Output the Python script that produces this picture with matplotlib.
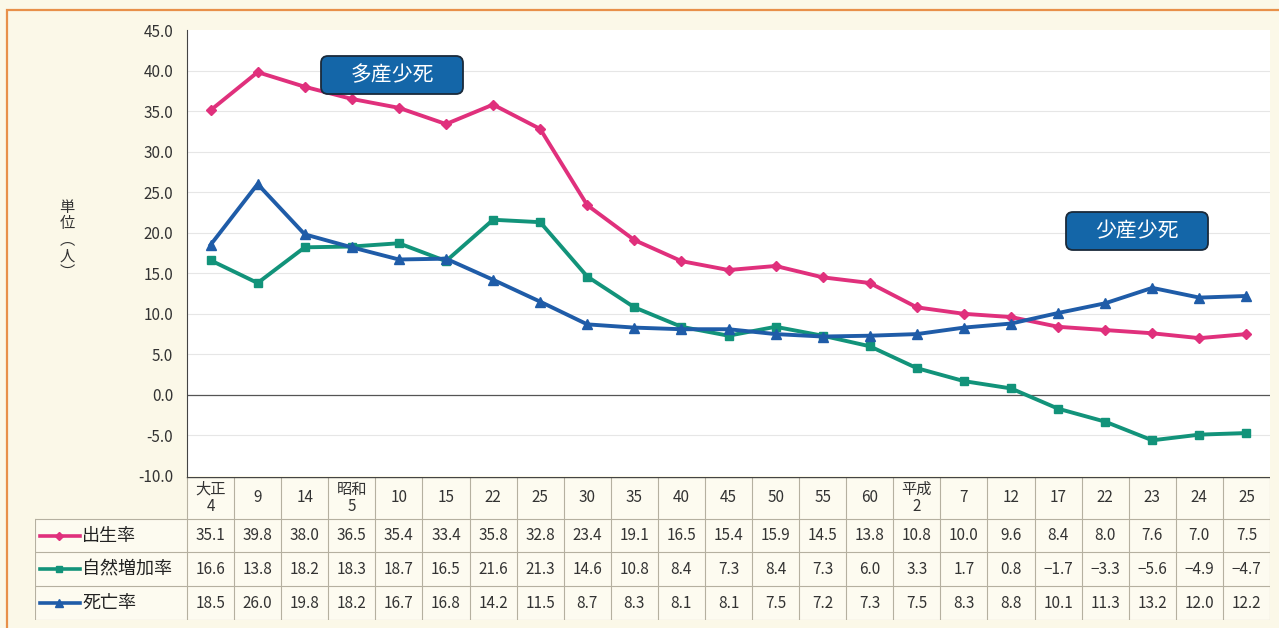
import matplotlib

matplotlib.use("Agg")
import matplotlib.pyplot as plt
from matplotlib.patches import Rectangle, FancyBboxPatch
from matplotlib.lines import Line2D
from matplotlib.transforms import IdentityTransform

plt.rcParams["font.family"] = ["Noto Sans CJK JP", "DejaVu Sans"]

YEARS = ["大正\n4", "9", "14", "昭和\n5", "10", "15", "22", "25", "30", "35", "40",
         "45", "50", "55", "60", "平成\n2", "7", "12", "17", "22", "23", "24", "25"]
BIRTH = [35.1, 39.8, 38.0, 36.5, 35.4, 33.4, 35.8, 32.8, 23.4, 19.1, 16.5, 15.4,
         15.9, 14.5, 13.8, 10.8, 10.0, 9.6, 8.4, 8.0, 7.6, 7.0, 7.5]
NATURAL = [16.6, 13.8, 18.2, 18.3, 18.7, 16.5, 21.6, 21.3, 14.6, 10.8, 8.4, 7.3,
           8.4, 7.3, 6.0, 3.3, 1.7, 0.8, -1.7, -3.3, -5.6, -4.9, -4.7]
DEATH = [18.5, 26.0, 19.8, 18.2, 16.7, 16.8, 14.2, 11.5, 8.7, 8.3, 8.1, 8.1,
         7.5, 7.2, 7.3, 7.5, 8.3, 8.8, 10.1, 11.3, 13.2, 12.0, 12.2]
YTICKS = [-10, -5, 0, 5, 10, 15, 20, 25, 30, 35, 40, 45]

SERIES = [("出生率", BIRTH, "#e0307c", "D", 5),
          ("自然増加率", NATURAL, "#12937a", "s", 6),
          ("死亡率", DEATH, "#1f5ca8", "^", 7)]
BG = "#fbf8e8"

W, H = 1279, 628
fig = plt.figure(figsize=(W / 100, H / 100), dpi=100, facecolor=BG)

# orange frame
fig.patches.append(Rectangle((7 / W, -0.1), 1.2, 1 - 10 / H + 0.1, transform=fig.transFigure,
                             fill=False, ec="#e8904a", lw=1.6))

px_l, px_r, px_t, px_b = 187, 1270, 30, 476
ax = fig.add_axes([px_l / W, 1 - px_b / H, (px_r - px_l) / W, (px_b - px_t) / H])
n = len(YEARS)
x = [i + 0.5 for i in range(n)]
ax.set_xlim(0, n)
ax.set_ylim(-10, 45)
ax.set_yticks(YTICKS)
ax.set_yticklabels([f"{v:.1f}" for v in YTICKS], fontsize=11, color="#333333")
ax.tick_params(axis="y", length=0, pad=10)
ax.set_xticks([])
for v in YTICKS[1:-1]:
    if v != 0:
        ax.axhline(v, color="#e6e6e6", lw=0.8, zorder=0)
ax.axhline(0, color="#555555", lw=0.9, zorder=1)
for s in ["top", "right"]:
    ax.spines[s].set_visible(False)
ax.spines["left"].set_color("#444444")
ax.spines["bottom"].set_visible(False)

for name, vals, col, mk, ms in SERIES:
    ax.plot(x, vals, color=col, lw=2.8, marker=mk, ms=ms, zorder=3)


def badge(cx, cy, text):
    # position in pixels from the top-left corner of the image
    bw, bh = 142, 38
    y = H - cy
    fig.patches.append(FancyBboxPatch((cx - bw / 2, y - bh / 2), bw, bh,
                                      boxstyle="round,pad=0,rounding_size=7",
                                      transform=IdentityTransform(),
                                      fc="#1466a8", ec="#1a2a3a", lw=1.3, zorder=5))
    fig.text(cx / W, y / H, text, ha="center", va="center", fontsize=15,
             color="white", zorder=6)


badge(392, 75, "多産少死")
badge(1137, 231, "少産少死")

fig.text(67 / W, 1 - 240 / H, "単\n位\n︵\n人\n︶", ha="center", va="center",
         fontsize=11, color="#333333", linespacing=0.95)

# table
colw = (px_r - px_l) / n
lab_l = 35
tb_t, tb_b = 477, 620
tax = fig.add_axes([lab_l / W, 1 - tb_b / H, (px_r - lab_l) / W, (tb_b - tb_t) / H])
xl = -(px_l - lab_l) / colw
tax.set_xlim(xl, n)
row_h = [42, 33, 34, 34]
tot = sum(row_h)
edges = [tot]
for h in row_h:
    edges.append(edges[-1] - h)
tax.set_ylim(0, tot)
tax.axis("off")
tax.add_patch(Rectangle((0, 0), n, tot, fc="#fdfbf0", ec="none", zorder=0))
tax.add_patch(Rectangle((xl, 0), -xl, edges[1], fc="#fdfbf0", ec="none", zorder=0))
lc, lw = "#b5b0a0", 0.8
for i in range(n + 1):
    tax.plot([i, i], [0, tot], color=lc, lw=lw)
tax.plot([xl, xl], [0, edges[1]], color=lc, lw=lw)
tax.plot([0, n], [tot, tot], color="#444444", lw=1.0)
for e in edges[1:]:
    tax.plot([xl, n], [e, e], color=lc, lw=lw)
for i, yl in enumerate(YEARS):
    tax.text(i + 0.5, (edges[0] + edges[1]) / 2, yl, ha="center", va="center",
             fontsize=11, color="#333333", linespacing=1.0)
for r, (name, vals, col, mk, ms) in enumerate(SERIES):
    yc = (edges[r + 1] + edges[r + 2]) / 2
    for i, v in enumerate(vals):
        tax.text(i + 0.5, yc, f"{v:.1f}".replace("-", "\u2212"), ha="center", va="center",
                 fontsize=11, color="#333333")
    tax.add_line(Line2D([xl + 0.1, xl + 0.95], [yc, yc], color=col, lw=2.6))
    tax.plot([xl + 0.52], [yc], marker=mk, color=col, ms=ms - 1)
    tax.text(xl + 1.0, yc, name, ha="left", va="center", fontsize=13, color="#222222")

fig.savefig("out.png", dpi=100, facecolor=BG)
